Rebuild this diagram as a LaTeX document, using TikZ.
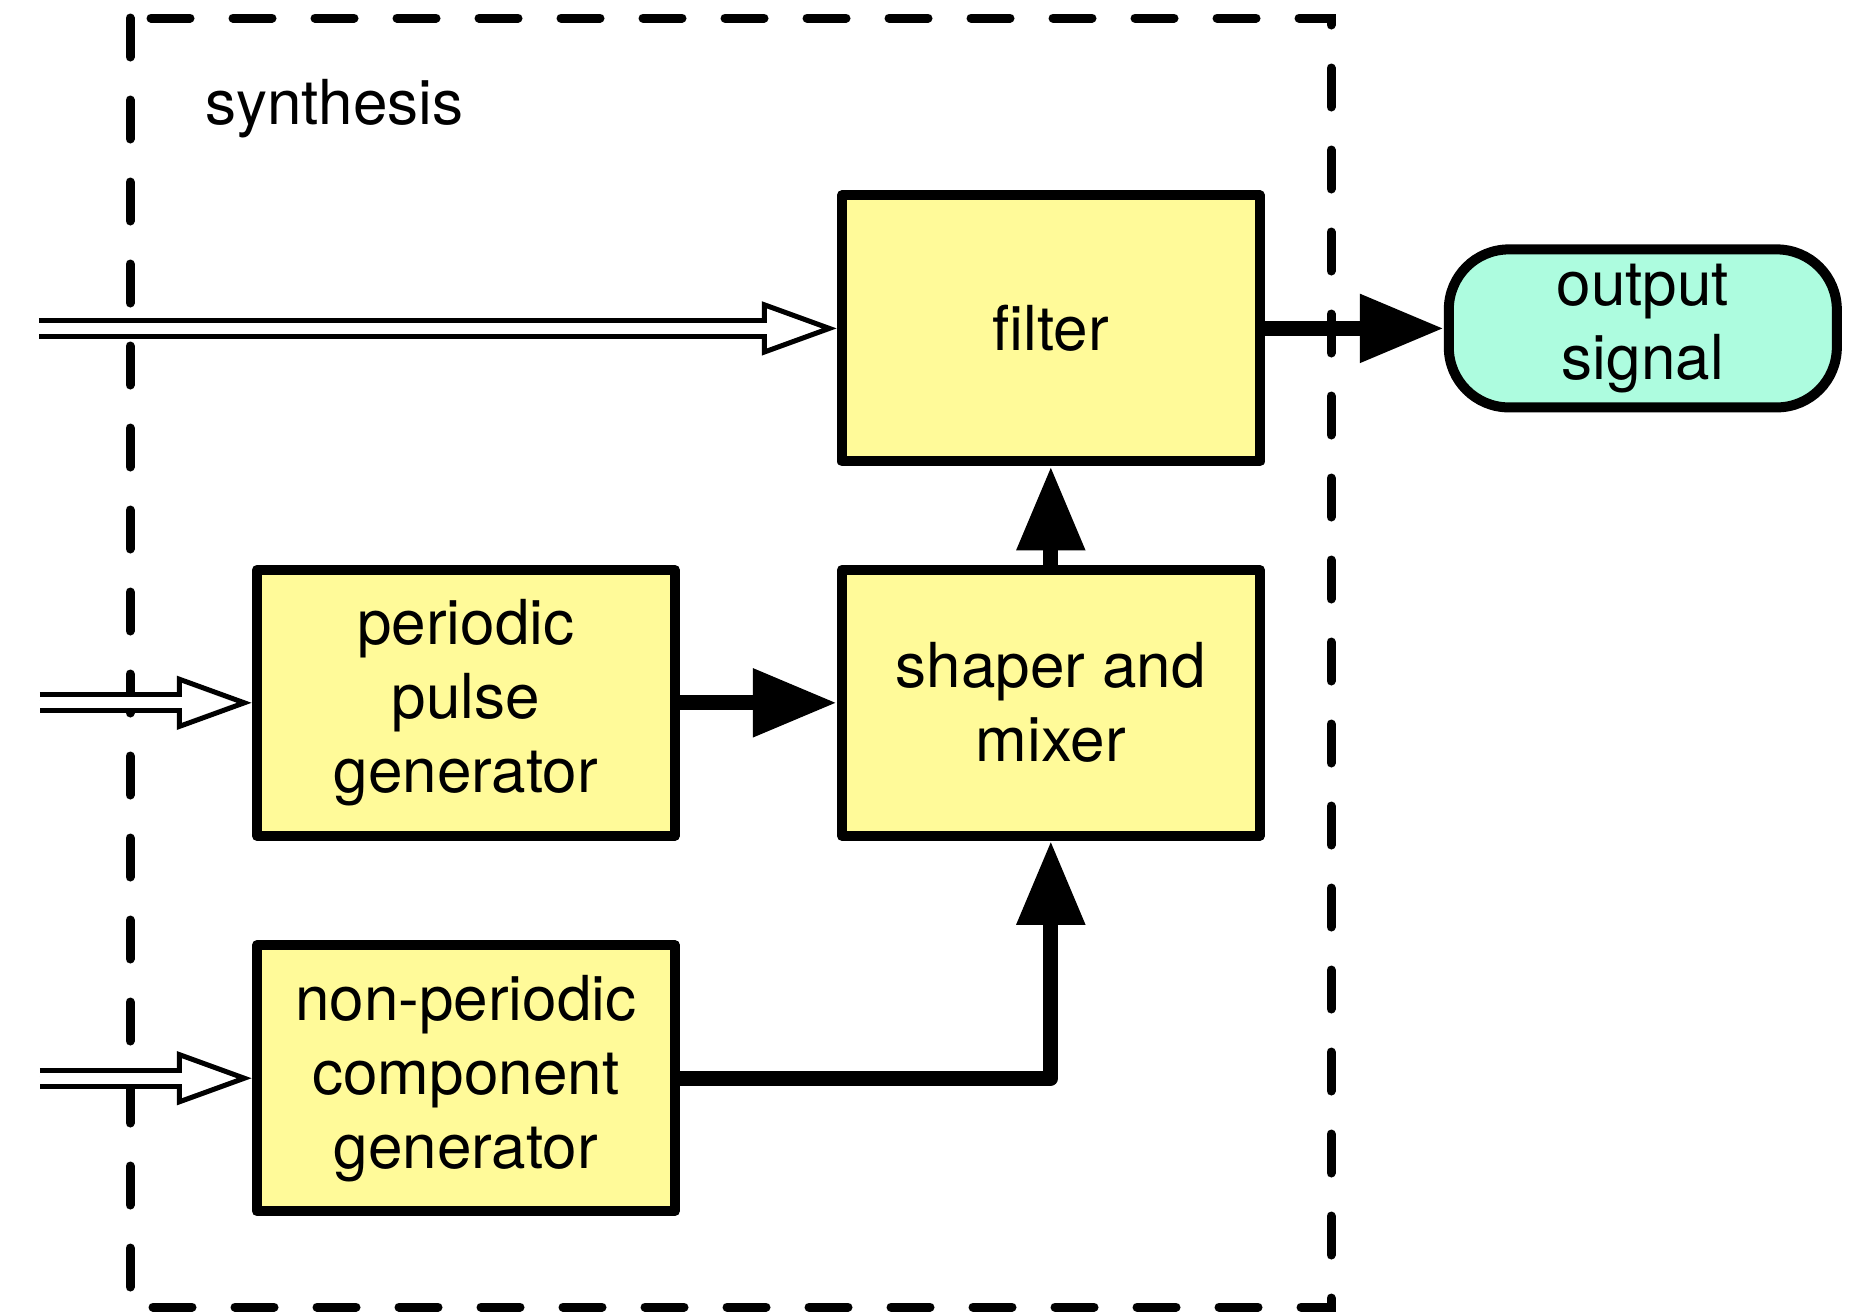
\documentclass[tikz,border=0pt]{standalone}
\usepackage{fontspec}
\setmainfont{TeX Gyre Heros}
\usepackage{xcolor}
\usepackage{tikz}
\usetikzlibrary{positioning,arrows.meta}
\definecolor{blockfill}{HTML}{FFFA99}
\definecolor{outfill}{HTML}{ADFCDF}
\tikzstyle{block} = [draw, fill=blockfill, line width=5pt, line join=round, rectangle, minimum width=209pt, minimum height=133pt, align=center, font=\fontsize{31}{37}\selectfont]
\tikzstyle{term} = [draw, fill=outfill, line width=5pt, rounded corners=30pt, minimum width=194pt, minimum height=79pt, align=center, font=\fontsize{31}{37}\selectfont]
\tikzstyle{flow} = [line width=7.5pt, line cap=round, line join=round, -{Triangle[length=42pt, width=32.5pt]}]
\tikzstyle{feedtip} = [line width=2.5pt, -{Triangle[open, length=37.5pt, width=26.5pt]}]
\tikzstyle{feed} = [line width=2.5pt, double=white, double distance=5.5pt, shorten >=35pt]
\tikzstyle{frame} = [line width=4.5pt, line cap=round, dash pattern=on 19.5pt off 21.5pt]

\begin{document}
\begin{tikzpicture}
	\useasboundingbox (0,0) rectangle (927.5pt,-656.5pt);
	\draw [frame] (65pt,-9pt) rectangle (665.5pt,-653.5pt);
	\node [anchor=base west, font=\fontsize{31}{37}\selectfont] (title) at (99pt,-62pt) {synthesis};

	\node [block] (filter) at (525.4pt,-164.2pt) {filter};
	\node [block, below=49.2pt of filter] (mixer) {shaper and\\mixer};
	\node [block, left=78.5pt of mixer] (pulse) {periodic\\pulse\\generator};
	\node [block, below=49.7pt of pulse] (noise) {non-periodic\\component\\generator};
	\node [term, right=89.5pt of filter] (out) {output\\signal};

	\coordinate [left=399pt of filter.west] (in1);
	\coordinate [left=106pt of pulse.west] (in2);
	\coordinate [left=106pt of noise.west] (in3);

	% hollow feed arrows: tip first, then the double shaft over it
	\foreach \src/\dst in {in1/filter, in2/pulse, in3/noise} {
		\draw [feedtip] (\src) -- (\dst.west);
		\draw [feed] (\src) -- (\dst.west);
	}

	\draw [flow] (filter.east) -- (out.west);
	\draw [flow] (mixer.north) -- (filter.south);
	\draw [flow] (pulse.east) -- (mixer.west);
	\draw [flow] (noise.east) -| (mixer.south);
\end{tikzpicture}
\end{document}
